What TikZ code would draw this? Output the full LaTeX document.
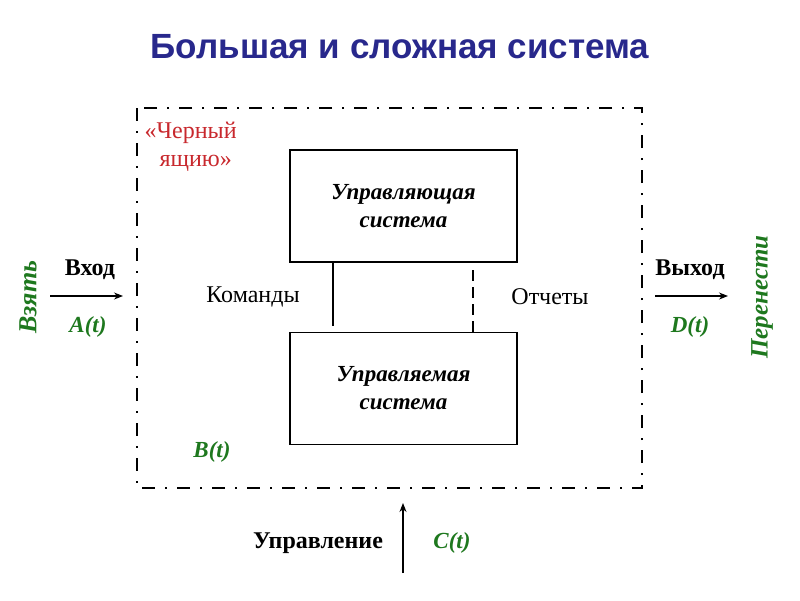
\documentclass[tikz,border=0pt]{standalone}
\usepackage{fontspec}
\setmainfont{Liberation Serif}
\newfontfamily\titlefont{Liberation Sans}
\usetikzlibrary{arrows.meta}
\definecolor{ttlblue}{RGB}{40,40,140}
\definecolor{grn}{RGB}{30,120,30}
\definecolor{rd}{RGB}{200,40,45}
\tikzset{
  sysbox/.style={draw, line width=1.2pt, minimum width=227pt, minimum height=112pt, align=center, font=\fontsize{23}{28}\selectfont\bfseries\itshape},
  lbl/.style={font=\fontsize{24}{26}\selectfont},
  io/.style={font=\fontsize{24}{26}\selectfont\bfseries},
  fn/.style={text=grn, font=\fontsize{23}{25}\selectfont\bfseries\itshape},
  arr/.style={-{Stealth[length=9pt,width=7pt]}, line width=1.2pt},
}
\begin{document}
\begin{tikzpicture}[x=1pt,y=-1pt]
\useasboundingbox (0,0) rectangle (800,600);
\node[text=ttlblue, font=\titlefont\fontsize{35}{40}\selectfont\bfseries] (title) at (400,47) {Большая и сложная система};
\coordinate (bl) at (137,108);
\coordinate (br) at (642,488);
\draw[line width=2.2pt, dash pattern=on 13pt off 10pt on 2pt off 10pt] (bl) rectangle (br);
\node[text=rd, font=\fontsize{24}{28}\selectfont, align=left, anchor=north west] (bb) at (141,119) {«Черный\\\hspace*{15pt}ящию»};
\node[sysbox] (top) at (403.5,206) {Управляющая\\система};
\node[sysbox] (bot) at (403.5,388.5) {Управляемая\\система};
\coordinate (c1) at (333,326);
\coordinate (r1) at (473,268);
\draw[line width=1.3pt] (top.south -| c1) -- (c1);
\draw[line width=1.3pt, dash pattern=on 11pt off 6pt] (bot.north -| r1) -- (r1);
\node[lbl] (cmd) at (253,297) {Команды};
\node[lbl] (rep) at (550,297) {Отчеты};
\node[fn] (bt) at (212,452) {B(t)};
% left
\coordinate (ls) at (50,296);
\coordinate (le) at (123,296);
\draw[arr] (ls) -- (le);
\node[io] (in) at (90,270) {Вход};
\node[fn] (at) at (88,327) {A(t)};
\node[fn, font=\fontsize{26}{28}\selectfont\bfseries\itshape, rotate=90] (take) at (28,297) {Взять};
% right
\coordinate (rs) at (655,296);
\coordinate (re) at (728,296);
\draw[arr] (rs) -- (re);
\node[io] (out) at (690,270) {Выход};
\node[fn] (dt) at (690,327) {D(t)};
\node[fn, font=\fontsize{25}{27}\selectfont\bfseries\itshape, rotate=90] (move) at (762,297) {Перенести};
% bottom
\coordinate (bs) at (403,573);
\coordinate (be) at (403,503);
\draw[arr] (bs) -- (be);
\node[io] (ctl) at (318,543) {Управление};
\node[fn] (ct) at (452,543) {C(t)};
\end{tikzpicture}
\end{document}
